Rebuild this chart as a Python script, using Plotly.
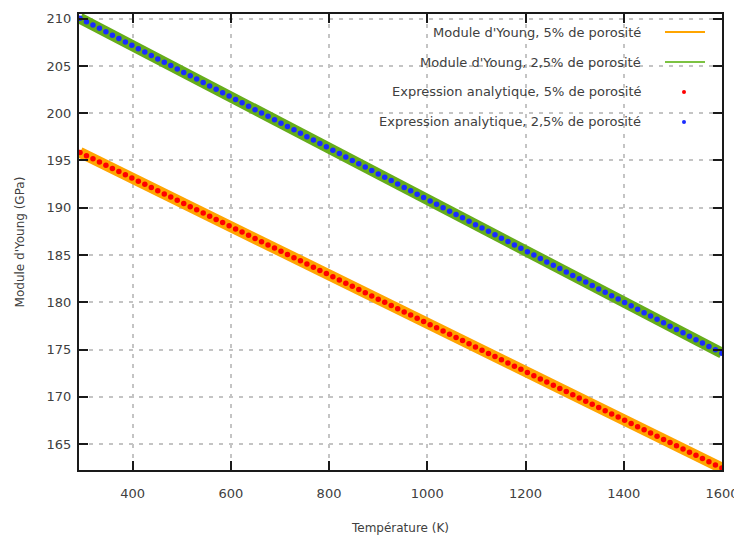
import plotly.graph_objects as go

temperature = [293.0, 306.2, 319.4, 332.6, 345.8, 359.0, 372.2, 385.4, 398.6, 411.8,
               425.0, 438.2, 451.4, 464.6, 477.8, 491.0, 504.2, 517.4, 530.6, 543.8,
               557.0, 570.2, 583.4, 596.6, 609.8, 623.0, 636.2, 649.4, 662.6, 675.8,
               689.0, 702.2, 715.4, 728.6, 741.8, 755.0, 768.2, 781.4, 794.6, 807.8,
               821.0, 834.2, 847.4, 860.6, 873.8, 887.0, 900.2, 913.4, 926.6, 939.8,
               953.0, 966.2, 979.4, 992.6, 1005.8, 1019.0, 1032.2, 1045.4, 1058.6, 1071.8,
               1085.0, 1098.2, 1111.4, 1124.6, 1137.8, 1151.0, 1164.2, 1177.4, 1190.6, 1203.8,
               1217.0, 1230.2, 1243.4, 1256.6, 1269.8, 1283.0, 1296.2, 1309.4, 1322.6, 1335.8,
               1349.0, 1362.2, 1375.4, 1388.6, 1401.8, 1415.0, 1428.2, 1441.4, 1454.6, 1467.8,
               1481.0, 1494.2, 1507.4, 1520.6, 1533.8, 1547.0, 1560.2, 1573.4, 1586.6, 1599.8]

young_25 = [210.05, 209.69, 209.33, 208.98, 208.62, 208.26, 207.90, 207.54, 207.19, 206.83,
            206.47, 206.11, 205.75, 205.40, 205.04, 204.68, 204.32, 203.96, 203.61, 203.25,
            202.89, 202.53, 202.17, 201.82, 201.46, 201.10, 200.74, 200.38, 200.03, 199.67,
            199.31, 198.95, 198.59, 198.24, 197.88, 197.52, 197.16, 196.80, 196.45, 196.09,
            195.73, 195.37, 195.01, 194.66, 194.30, 193.94, 193.58, 193.22, 192.87, 192.51,
            192.15, 191.79, 191.43, 191.08, 190.72, 190.36, 190.00, 189.64, 189.29, 188.93,
            188.57, 188.21, 187.85, 187.50, 187.14, 186.78, 186.42, 186.06, 185.71, 185.35,
            184.99, 184.63, 184.27, 183.92, 183.56, 183.20, 182.84, 182.48, 182.13, 181.77,
            181.41, 181.05, 180.69, 180.34, 179.98, 179.62, 179.26, 178.90, 178.55, 178.19,
            177.83, 177.47, 177.11, 176.76, 176.40, 176.04, 175.68, 175.32, 174.97, 174.61]

young_5 = [195.85, 195.51, 195.18, 194.84, 194.50, 194.16, 193.83, 193.49, 193.15, 192.81,
           192.48, 192.14, 191.80, 191.46, 191.13, 190.79, 190.45, 190.11, 189.78, 189.44,
           189.10, 188.76, 188.43, 188.09, 187.75, 187.42, 187.08, 186.74, 186.40, 186.07,
           185.73, 185.39, 185.05, 184.72, 184.38, 184.04, 183.70, 183.37, 183.03, 182.69,
           182.35, 182.02, 181.68, 181.34, 181.00, 180.67, 180.33, 179.99, 179.65, 179.32,
           178.98, 178.64, 178.31, 177.97, 177.63, 177.29, 176.96, 176.62, 176.28, 175.94,
           175.61, 175.27, 174.93, 174.59, 174.26, 173.92, 173.58, 173.24, 172.91, 172.57,
           172.23, 171.89, 171.56, 171.22, 170.88, 170.55, 170.21, 169.87, 169.53, 169.20,
           168.86, 168.52, 168.18, 167.85, 167.51, 167.17, 166.83, 166.50, 166.16, 165.82,
           165.48, 165.15, 164.81, 164.47, 164.13, 163.80, 163.46, 163.12, 162.78, 162.45]

x_ticks = [400, 600, 800, 1000, 1200, 1400, 1600]
y_ticks = [165, 170, 175, 180, 185, 190, 195, 200, 205, 210]

legend_labels = ["Module d'Young, 5% de porosité",
                 "Module d'Young, 2,5% de porosité",
                 "Expression analytique, 5% de porosité",
                 "Expression analytique, 2,5% de porosité"]

ORANGE = "#ffa500"
GREEN = "#66ad1a"
RED = "#ff0000"
BLUE = "#1a2cff"
FONT = "DejaVu Sans"
TXT = "#404040"

fig = go.Figure()
fig.add_trace(go.Scatter(x=temperature, y=young_5, mode="lines",
                         line=dict(color=ORANGE, width=11), name=legend_labels[0]))
fig.add_trace(go.Scatter(x=temperature, y=young_25, mode="lines",
                         line=dict(color=GREEN, width=11), name=legend_labels[1]))
fig.add_trace(go.Scatter(x=temperature, y=young_5, mode="markers",
                         marker=dict(color=RED, size=5.5), name=legend_labels[2]))
fig.add_trace(go.Scatter(x=temperature, y=young_25, mode="markers",
                         marker=dict(color=BLUE, size=5.5), name=legend_labels[3]))

# page body has an 8px margin: figure is placed at (8, 8) in the window
OFF = 8
W, H = 742 - OFF, 535 - OFF
L, R, T, B = 79 - OFF, 20, 14 - OFF, 65
pw, ph = W - L - R, H - T - B

def px(xp):  # window pixel -> paper
    return (xp - OFF - L) / pw

def py(yp):
    return 1 - (yp - OFF - T) / ph

# custom gnuplot-style key: text right-aligned, sample to the right
key_rows = [32, 62, 92, 122]
text_right = 643
for i, lab in enumerate(legend_labels):
    fig.add_annotation(x=px(text_right), y=py(key_rows[i]), xref="paper", yref="paper",
                       text=lab, showarrow=False, xanchor="right", yanchor="middle",
                       font=dict(family=FONT, size=13, color=TXT))
for i, col in enumerate([ORANGE, "#7cc242"]):
    fig.add_shape(type="line", xref="paper", yref="paper",
                  x0=px(665), x1=px(705), y0=py(key_rows[i]), y1=py(key_rows[i]),
                  line=dict(color=col, width=2))
for i, col in enumerate([RED, BLUE]):
    yy = key_rows[i + 2]
    fig.add_shape(type="circle", xref="paper", yref="paper",
                  x0=px(682), x1=px(686), y0=py(yy + 2), y1=py(yy - 2),
                  fillcolor=col, line=dict(width=0))

axis_common = dict(
    showline=True, linecolor="#1a1a1a", linewidth=2, mirror="allticks",
    ticks="inside", ticklen=9, tickwidth=2, tickcolor="#1a1a1a",
    showgrid=True, gridcolor="#c4c4c4", gridwidth=1.5, griddash="4px,6px",
    zeroline=False, automargin=False,
    tickfont=dict(family=FONT, size=13, color=TXT),
)

fig.update_xaxes(range=[291, 1600], tickvals=x_ticks, ticklabelstandoff=10,
                 title=dict(text="Température (K)", standoff=27,
                            font=dict(family=FONT, size=12, color=TXT)),
                 **axis_common)
fig.update_yaxes(range=[162.25, 210.5], tickvals=y_ticks, ticklabelstandoff=3,
                 title=dict(text="Module d'Young (GPa)", standoff=19,
                            font=dict(family=FONT, size=12, color=TXT)),
                 **axis_common)

fig.update_layout(width=W, height=H, margin=dict(l=L, r=R, t=T, b=B),
                  plot_bgcolor="white", paper_bgcolor="white", showlegend=False)

fig.write_html("out.html")
